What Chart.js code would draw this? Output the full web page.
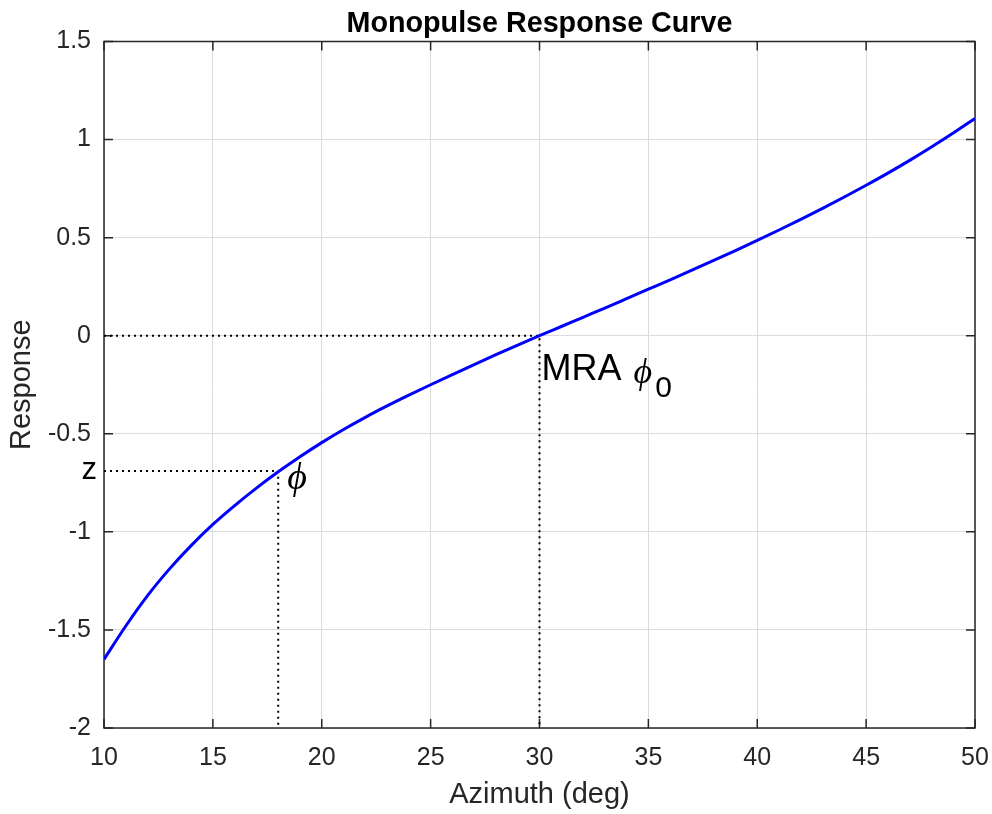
<!DOCTYPE html>
<html><head><meta charset="utf-8">
<script src="https://cdn.jsdelivr.net/npm/chart.js@4.4.0/dist/chart.umd.min.js"></script>
<style>html,body{margin:0;padding:0;background:#fff;} #wrap{width:992px;height:814px;}</style>
</head><body><div id="wrap"><canvas id="c" width="992" height="814"></canvas></div>
<script>
// ---- data ----
const azimuth = [10,11,12,13,14,15,16,17,18,19,20,21,22,23,24,25,26,27,28,29,30,31,32,33,34,35,36,37,38,39,40,41,42,43,44,45,46,47,48,49,50];
const response = [-1.65,-1.48,-1.325,-1.19,-1.07,-0.962,-0.866,-0.777,-0.694,-0.617,-0.545,-0.478,-0.416,-0.358,-0.303,-0.250,-0.198,-0.147,-0.097,-0.048,0,0.047,0.094,0.141,0.189,0.237,0.285,0.334,0.384,0.434,0.486,0.539,0.593,0.649,0.707,0.767,0.829,0.894,0.962,1.033,1.108];
const mraAzimuth = 30;
const mraResponse = 0;
const phiAzimuth = 18;
const zResponse = -0.69;
const xRange = [10, 50];
const yRange = [-2, 1.5];
const xStep = 5;
const yStep = 0.5;
const titleText = 'Monopulse Response Curve';
const xLabel = 'Azimuth (deg)';
const yLabel = 'Response';

const curve = azimuth.map((a, i) => ({x: a, y: response[i]}));
const mraGuide = [{x: xRange[0], y: mraResponse}, {x: mraAzimuth, y: mraResponse}, {x: mraAzimuth, y: yRange[0]}];
const phiGuide = [{x: xRange[0], y: zResponse}, {x: phiAzimuth, y: zResponse}, {x: phiAzimuth, y: yRange[0]}];

const SANS = '"Liberation Sans", Arial, Helvetica, sans-serif';
const SERIF = '"Liberation Serif", "DejaVu Serif", serif';
const AXIS_COLOR = '#262626';

const boxPlugin = {
  id: 'box',
  beforeDatasetsDraw(chart) {
    const {ctx, chartArea: a, scales: {x, y}} = chart;
    ctx.save();
    ctx.strokeStyle = AXIS_COLOR;
    ctx.lineWidth = 1.5;
    ctx.strokeRect(a.left, a.top, a.right - a.left, a.bottom - a.top);
    const tl = 9;
    ctx.beginPath();
    x.ticks.forEach(t => {
      const px = x.getPixelForValue(t.value);
      ctx.moveTo(px, a.bottom); ctx.lineTo(px, a.bottom - tl);
      ctx.moveTo(px, a.top); ctx.lineTo(px, a.top + tl);
    });
    y.ticks.forEach(t => {
      const py = y.getPixelForValue(t.value);
      ctx.moveTo(a.left, py); ctx.lineTo(a.left + tl, py);
      ctx.moveTo(a.right, py); ctx.lineTo(a.right - tl, py);
    });
    ctx.stroke();
    ctx.restore();
  },
  afterDraw(chart) {
    const {ctx, chartArea: a, scales: {x, y}} = chart;
    ctx.save();
    // title centred over the plot area
    ctx.fillStyle = '#000';
    ctx.font = 'bold 28.7px ' + SANS;
    ctx.textAlign = 'center';
    ctx.textBaseline = 'alphabetic';
    ctx.fillText(titleText, (a.left + a.right) / 2, a.top - 10);
    // MRA phi_0
    const mx = x.getPixelForValue(mraAzimuth), my = y.getPixelForValue(mraResponse);
    ctx.font = '36px ' + SANS;
    ctx.textAlign = 'left';
    ctx.fillText('MRA', mx + 2, my + 44);
    const w = ctx.measureText('MRA ').width;
    ctx.font = 'italic 36px ' + SERIF;
    ctx.fillText('\u03D5', mx + 4 + w, my + 47);
    const w2 = ctx.measureText('\u03D5').width;
    ctx.font = '30px ' + SANS;
    ctx.fillText('0', mx + 4 + w + w2 + 3, my + 61);
    // phi at the measured point
    const px = x.getPixelForValue(phiAzimuth), py = y.getPixelForValue(zResponse);
    ctx.font = 'italic 38px ' + SERIF;
    ctx.fillText('\u03D5', px + 9, py + 18);
    // z on the left axis
    ctx.font = '31px ' + SANS;
    ctx.textAlign = 'right';
    ctx.fillText('z', a.left - 7, py + 8);
    ctx.restore();
  }
};

const tickFont = {family: SANS, size: 25};
const labelFont = {family: SANS, size: 29};

new Chart(document.getElementById('c'), {
  type: 'scatter',
  data: {
    datasets: [
      {data: curve, showLine: true, borderColor: '#0000ff', borderWidth: 3, pointRadius: 0,
        cubicInterpolationMode: 'monotone', order: 0},
      {data: mraGuide, showLine: true, borderColor: '#000', borderWidth: 2, borderDash: [2, 4], pointRadius: 0, order: 1},
      {data: phiGuide, showLine: true, borderColor: '#000', borderWidth: 2, borderDash: [2, 4], pointRadius: 0, order: 1}
    ]
  },
  options: {
    responsive: false,
    animation: false,
    events: [],
    layout: {padding: {left: 0, right: 17, top: 41.5, bottom: 0}},
    plugins: {
      legend: {display: false},
      tooltip: {enabled: false},
      title: {display: false}
    },
    scales: {
      x: {
        type: 'linear', min: xRange[0], max: xRange[1],
        ticks: {stepSize: xStep, font: tickFont, color: AXIS_COLOR, padding: 15, maxRotation: 0, autoSkip: false,
          callback: v => String(v)},
        grid: {color: '#dcdcdc', lineWidth: 1, drawTicks: false},
        border: {display: false},
        title: {display: true, text: xLabel, font: labelFont, color: AXIS_COLOR, padding: {top: 0, bottom: 2}},
        afterFit(s) { s.height = 86; s.paddingLeft = 0; s.paddingRight = 0; }
      },
      y: {
        type: 'linear', min: yRange[0], max: yRange[1],
        ticks: {stepSize: yStep, font: tickFont, color: AXIS_COLOR, padding: 13, autoSkip: false,
          callback: v => String(v)},
        grid: {color: '#dcdcdc', lineWidth: 1, drawTicks: false},
        border: {display: false},
        title: {display: true, text: yLabel, font: labelFont, color: AXIS_COLOR, padding: {top: 5, bottom: 0}},
        afterFit(s) { s.width = 104; s.paddingTop = 0; s.paddingBottom = 0; }
      }
    }
  },
  plugins: [boxPlugin]
});
</script>
</body></html>
